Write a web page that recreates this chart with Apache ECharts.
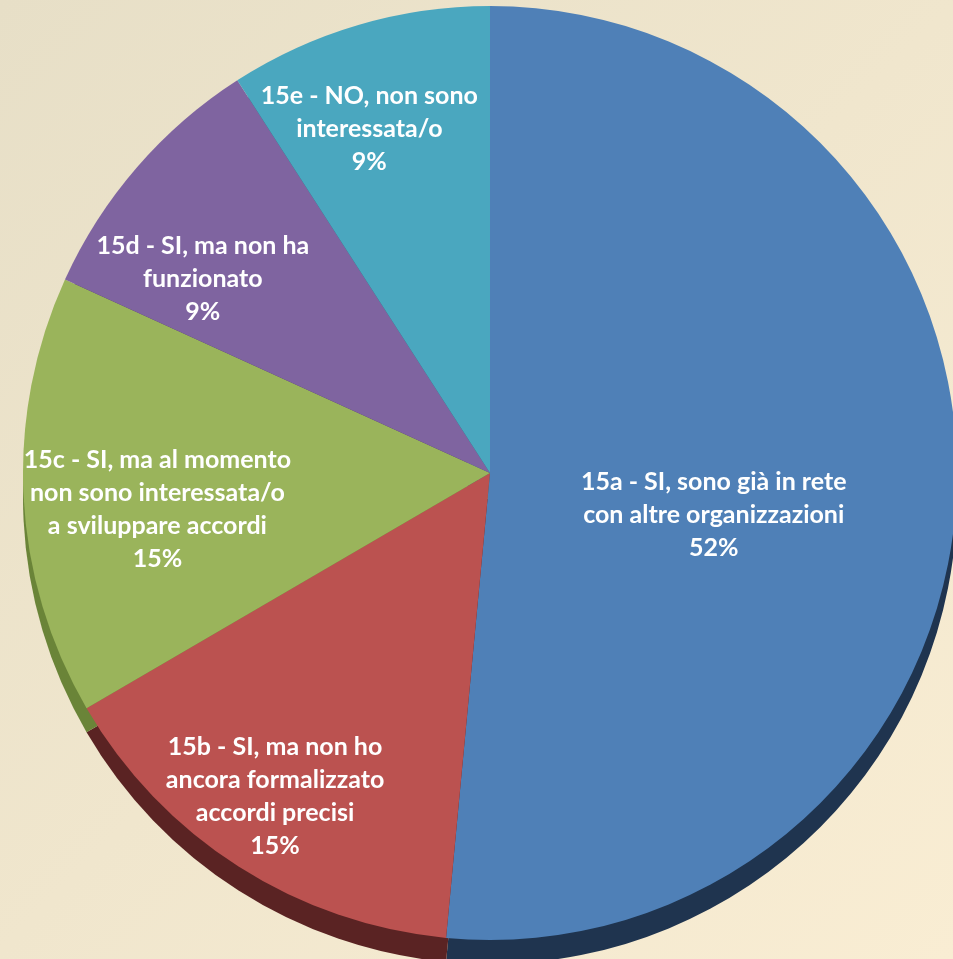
<!DOCTYPE html>
<html>
<head>
<meta charset="utf-8">
<script src="https://cdn.jsdelivr.net/npm/echarts@6/dist/echarts.min.js"></script>
<style>
  html, body { margin: 0; padding: 0; }
  #chart { width: 953px; height: 959px; }
</style>
</head>
<body>
<div id="chart"></div>
<script>
// Categories (label text, with line breaks as in the original)
var categories = [
  '15a - SI, sono già in rete\ncon altre organizzazioni',
  '15b - SI, ma non ho\nancora formalizzato\naccordi precisi',
  '15c - SI, ma al momento\nnon sono interessata/o\na sviluppare accordi',
  '15d - SI, ma non ha\nfunzionato',
  '15e - NO, non sono\ninteressata/o'
];
// Shares (labels show rounded %)
var values = [51.5, 15.1, 15.2, 9.1, 9.1];

var faceColors = ['#4F80B7', '#BB5250', '#9AB45B', '#7F64A0', '#4AA7BF'];
var sideColors = ['#1F344F', '#5A2323', '#6A8438', '#4A3A60', '#2C6574'];

// label placement: distance from centre and small nudges
var labelDist = [223, 385, 331, 341, 361];
var labelNudge = [[-2, 31], [-6, -4], [1, 20], [-27, 31], [-18, 5]];

var CX = 490, CY = 473, R = 467, DEPTH = 24;

function buildData(colors) {
  return categories.map(function (c, i) {
    return { name: c, value: values[i], itemStyle: { color: colors[i] } };
  });
}

var series = [];
// side / extrusion
series.push({
  type: 'pie', silent: true, z: 1,
  center: [CX, CY + DEPTH], radius: [0, R],
  startAngle: 90, clockwise: true,
  label: { show: false }, labelLine: { show: false },
  itemStyle: { borderWidth: 0 },
  data: buildData(sideColors),
  animation: false
});
// top face
series.push({
  type: 'pie', silent: true, z: 2,
  center: [CX, CY], radius: [0, R],
  startAngle: 90, clockwise: true,
  label: { show: false }, labelLine: { show: false },
  itemStyle: { borderWidth: 0 },
  data: buildData(faceColors),
  animation: false
});
// label carriers (transparent rings so the inside label lands at chosen distance)
categories.forEach(function (c, k) {
  series.push({
    type: 'pie', silent: true, z: 3,
    center: [CX, CY], radius: [labelDist[k] - 1, labelDist[k] + 1],
    startAngle: 90, clockwise: true,
    labelLine: { show: false },
    labelLayout: { dx: labelNudge[k][0], dy: labelNudge[k][1] },
    itemStyle: { color: 'rgba(0,0,0,0)', borderWidth: 0 },
    data: categories.map(function (cc, i) {
      return {
        name: cc, value: values[i],
        label: {
          show: i === k, position: 'inside',
          formatter: function (p) { return p.name + '\n' + Math.round(p.percent) + '%'; },
          color: '#FFFFFF', fontFamily: 'Lato', fontWeight: 'bold',
          fontSize: 25, lineHeight: 33, align: 'center'
        }
      };
    }),
    animation: false
  });
});

var chart = echarts.init(document.getElementById('chart'));
chart.setOption({
  backgroundColor: {
    type: 'linear', x: 0, y: 0, x2: 1, y2: 1,
    colorStops: [
      { offset: 0, color: '#E7DFC7' },
      { offset: 1, color: '#F9EDD3' }
    ]
  },
  animation: false,
  series: series
});
</script>
</body>
</html>
